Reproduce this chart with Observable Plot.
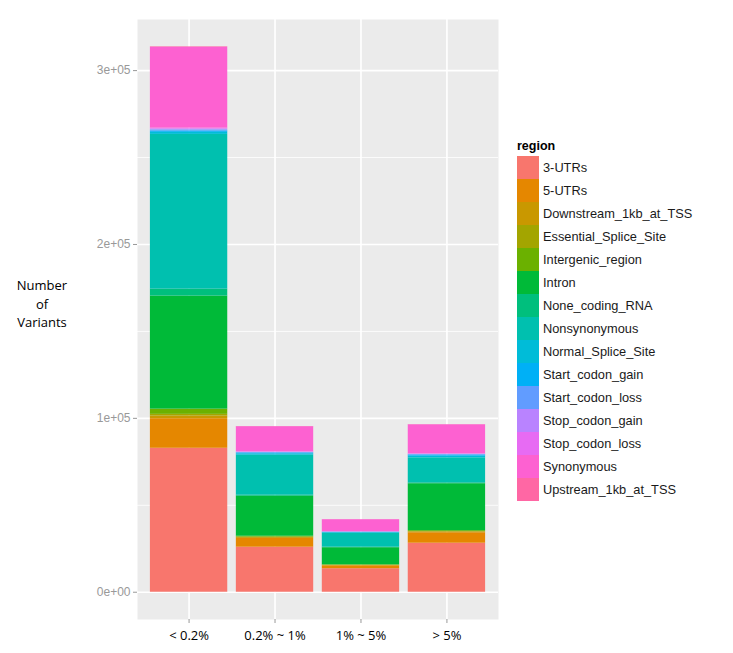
<!DOCTYPE html>
<html>
<head>
<meta charset="utf-8">
<script src="https://cdn.jsdelivr.net/npm/d3@7"></script>
<script src="https://cdn.jsdelivr.net/npm/@observablehq/plot@0.6"></script>
<style>
  html, body { margin: 0; padding: 0; background: #fff; }
  #wrap { position: relative; width: 733px; height: 653px; }
  #ylab { position: absolute; left: 0; width: 84px; top: 276px; text-align: center;
          font-family: "Open Sans", sans-serif; font-size: 13px; line-height: 18.5px; color: #000; }
  #legend { position: absolute; left: 517px; top: 137px; font-family: "Liberation Sans", Arial, sans-serif; }
  #legend .title { font-weight: bold; font-size: 12.5px; height: 19px; line-height: 19px; color: #000; }
  #legend .row { display: flex; align-items: center; height: 23px; }
  #legend .key { width: 22px; height: 23px; }
  #legend .lab { margin-left: 4px; font-size: 12.8px; color: #1a1a1a; white-space: nowrap; }
</style>
</head>
<body>
<div id="wrap"></div>
<script>
const categories = ["< 0.2%", "0.2% ~ 1%", "1% ~ 5%", "> 5%"];
const regions = ["3-UTRs", "5-UTRs", "Downstream_1kb_at_TSS", "Essential_Splice_Site",
  "Intergenic_region", "Intron", "None_coding_RNA", "Nonsynonymous", "Normal_Splice_Site",
  "Start_codon_gain", "Start_codon_loss", "Stop_codon_gain", "Stop_codon_loss",
  "Synonymous", "Upstream_1kb_at_TSS"];
// values per frequency class, in the order of `regions`
const below02 = [82800, 17000, 1500, 1000, 3000, 65000, 4000, 89000, 1200, 800, 600, 500, 500, 46500, 300];
const from02to1 = [25900, 5000, 500, 300, 500, 23000, 600, 23000, 800, 500, 300, 200, 200, 14400, 100];
const from1to5 = [13500, 1700, 200, 100, 300, 9800, 300, 8000, 400, 200, 100, 100, 100, 6900, 50];
const above5 = [28200, 6000, 500, 200, 500, 27000, 500, 14400, 1000, 600, 300, 200, 200, 16700, 100];
const yTicks = [0, 100000, 200000, 300000];
const yTickLabels = ["0e+00", "1e+05", "2e+05", "3e+05"];
const yMinorTicks = [50000, 150000, 250000];

const palette = ["#F8766D", "#E58700", "#C99800", "#A3A500", "#6BB100", "#00BA38", "#00BF7D",
  "#00C0AF", "#00BCD8", "#00B0F6", "#619CFF", "#B983FF", "#E76BF3", "#FD61D1", "#FF67A4"];

const series = [below02, from02to1, from1to5, above5];
const data = [];
series.forEach((vals, ci) => vals.forEach((v, ri) => data.push({cat: categories[ci], region: regions[ri], value: v})));
const maxTotal = d3.max(series, s => d3.sum(s));

const plot = Plot.plot({
  width: 733,
  height: 653,
  marginLeft: 137,
  marginRight: 235,
  marginTop: 19,
  marginBottom: 34,
  style: {fontFamily: "Liberation Sans, Arial, sans-serif", background: "#fff"},
  x: {domain: categories, paddingInner: 0.1, paddingOuter: 0.15, round: false, label: null},
  y: {domain: [-0.05 * maxTotal, 1.05 * maxTotal], label: null},
  color: {domain: regions, range: palette},
  marks: [
    Plot.frame({fill: "#EBEBEB", stroke: "none"}),
    Plot.gridY(yMinorTicks, {stroke: "#fff", strokeOpacity: 1, strokeWidth: 0.8}),
    Plot.gridY(yTicks, {stroke: "#fff", strokeOpacity: 1, strokeWidth: 1.6}),
    Plot.gridX(categories, {stroke: "#fff", strokeOpacity: 1, strokeWidth: 1.6}),
    Plot.barY(data, Plot.stackY({x: "cat", y: "value", fill: "region", order: regions})),
    Plot.axisY(yTicks, {tickFormat: (d, i) => yTickLabels[i], tickSize: 4, tickPadding: 3,
      stroke: "#999", fill: "#999", fontSize: 12, label: null}),
    Plot.axisX({tickSize: 4, tickPadding: 7, stroke: "#999", fill: "#000", fontSize: 13,
      fontFamily: "Open Sans, sans-serif", label: null})
  ]
});

const wrap = document.getElementById("wrap");
wrap.appendChild(plot);

const ylab = document.createElement("div");
ylab.id = "ylab";
ylab.innerHTML = "Number<br>of<br>Variants";
wrap.appendChild(ylab);

const color = plot.scale("color");
const legend = document.createElement("div");
legend.id = "legend";
const title = document.createElement("div");
title.className = "title";
title.textContent = "region";
legend.appendChild(title);
regions.forEach((r, i) => {
  const row = document.createElement("div");
  row.className = "row";
  const key = document.createElement("div");
  key.className = "key";
  key.style.background = color.range[i];
  const lab = document.createElement("div");
  lab.className = "lab";
  lab.textContent = r;
  row.appendChild(key);
  row.appendChild(lab);
  legend.appendChild(row);
});
wrap.appendChild(legend);
</script>
</body>
</html>
